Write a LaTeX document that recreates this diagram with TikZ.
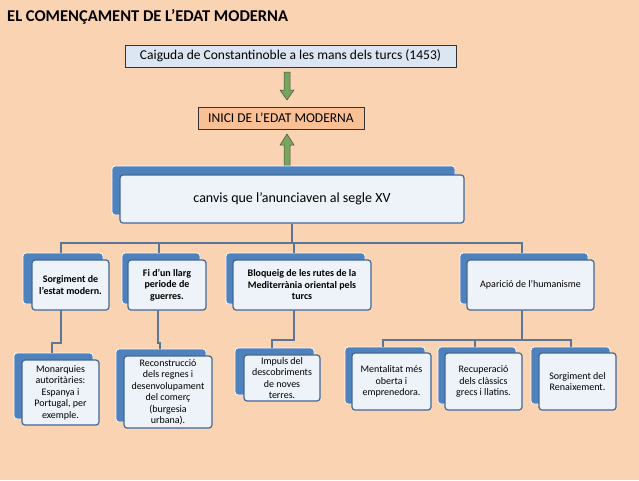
\documentclass[tikz,border=0pt]{standalone}
\usepackage{fontspec}
\setmainfont{Carlito}
\usetikzlibrary{arrows.meta}
\definecolor{bg}{HTML}{FAD3B2}
\definecolor{bk}{HTML}{4F81BD}
\definecolor{fr}{HTML}{EEF3F9}
\definecolor{ln}{HTML}{5B7699}
\definecolor{gr}{HTML}{77A55A}
\definecolor{lb}{HTML}{DCE6F2}
\definecolor{org}{HTML}{F9C096}
\tikzset{
 back/.style={fill=bk,draw=white,line width=0.8pt,rounded corners=3pt},
 front/.style={fill=fr,draw=bk!80!black,line width=1.2pt,rounded corners=3pt,align=center,inner sep=1pt,font=\fontsize{10}{11.5}\selectfont},
 conn/.style={draw=ln,line width=1.6pt},
 garrow/.style={draw=black!70,fill=gr,line width=0.5pt}
}
\newcommand{\bx}[8]{% name, x1,y1 back, x1,y1,x2,y2 front, text
 \fill[back] (#2,#3) rectangle (#6-6,#7-6);
 \node[front,minimum width=#6-#4,minimum height=#7-#5] (#1) at ({(#4+#6)/2},{(#5+#7)/2}) {#8};}
\begin{document}
\begin{tikzpicture}[x=1pt,y=-1pt]
\fill[bg] (0,0) rectangle (639,480);
\useasboundingbox (0,0) rectangle (639,480);
\node[anchor=west,inner sep=0pt,font=\bfseries\fontsize{16.5}{18}\selectfont] (title) at (7,17) {EL COMENÇAMENT DE L’EDAT MODERNA};
\node[fill=lb,draw=black!80,line width=0.7pt,minimum width=331,minimum height=22,inner sep=0pt,font=\fontsize{13.5}{15}\selectfont] (caig) at (290.5,56) {Caiguda de Constantinoble a les mans dels turcs (1453)};
\node[fill=org,draw=black!80,line width=0.7pt,minimum width=166,minimum height=22,inner sep=0pt,font=\fontsize{13.5}{15}\selectfont] (inici) at (281,118) {INICI DE L’EDAT MODERNA};
% green arrows
\draw[garrow] (284,72) -- (290,72) -- (290,90) -- (294,90) -- (287,100) -- (280,90) -- (284,90) -- cycle;
\draw[garrow] (284,166) -- (290,166) -- (290,145) -- (294,145) -- (287,134) -- (280,145) -- (284,145) -- cycle;
% big box
\fill[back] (112,166) rectangle (455,215);
\node[front,minimum width=344,minimum height=48,font=\fontsize{14}{16}\selectfont] (canvis) at (292,199) {canvis que l’anunciaven al segle XV};
% level 2
\bx{A}{23}{253}{32}{260}{109}{310}{\textbf{Sorgiment de}\\\textbf{l’estat modern.}}
\bx{B}{122}{253}{128}{260}{206}{310}{\textbf{Fi d’un llarg}\\\textbf{periode de}\\\textbf{guerres.}}
\bx{C}{226}{253}{233}{260}{371}{310}{\textbf{Bloqueig de les rutes de la}\\\textbf{Mediterrània oriental pels}\\\textbf{turcs}}
\bx{D}{460}{253}{467}{260}{594}{310}{Aparició de l’humanisme}
% level 3
\bx{E}{14}{353}{22}{360}{99}{425}{Monarquies\\autoritàries:\\Espanya i\\Portugal, per\\exemple.}
\bx{F}{116}{349}{124}{356}{212}{428}{Reconstrucció\\dels regnes i\\desenvolupament\\del comerç\\(burgesia\\urbana).}
\bx{G}{235}{348}{244}{355}{320}{401}{Impuls del\\descobriments\\de noves\\terres.}
\bx{H}{345}{347}{352}{353}{431}{410}{Mentalitat més\\oberta i\\emprenedora.}
\bx{I}{438}{347}{445}{353}{522}{410}{Recuperació\\dels clàssics\\grecs i llatins.}
\bx{J}{531}{347}{539}{353}{616}{410}{Sorgiment del\\Renaixement.}
% connectors
\draw[conn] (canvis.south) -- (292,243);
\draw[conn] (61,253) -- (61,243) -- (522,243) -- (522,253);
\draw[conn] (159,243) -- (159,253);
\draw[conn] (294,243) -- (294,253);
\draw[conn] (61,310) -- (61,343) -- (52,343) -- (52,353);
\draw[conn] (158,310) -- (158,343) -- (160,343) -- (160,349);
\draw[conn] (294,310) -- (294,340) -- (272,340) -- (272,348);
\draw[conn] (522,310) -- (522,340);
\draw[conn] (383,347) -- (383,340) -- (571,340) -- (571,347);
\draw[conn] (475,340) -- (475,347);
\end{tikzpicture}
\end{document}
